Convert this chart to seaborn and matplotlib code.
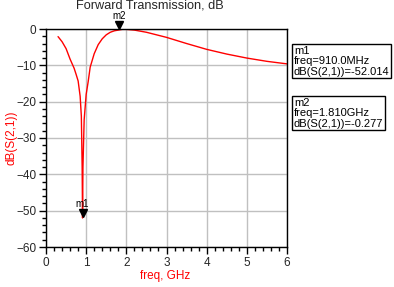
import matplotlib
matplotlib.use("Agg")
import matplotlib.pyplot as plt
import matplotlib.transforms as mtransforms
from matplotlib.ticker import MultipleLocator
import seaborn as sns
import pandas as pd

freq_ghz = [0.3, 0.4, 0.5, 0.6, 0.7, 0.75, 0.8, 0.85, 0.88, 0.9, 0.91,
            0.92, 0.95, 1.0, 1.05, 1.1, 1.2, 1.3, 1.4, 1.5, 1.6, 1.7, 1.81,
            1.9, 2.0, 2.2, 2.5, 3.0, 3.5, 4.0, 4.5, 5.0, 5.5, 6.0]
s21_db = [-2.1, -3.5, -5.4, -8.3, -10.8, -12.5, -14.3, -18.5, -24.0, -38.0, -52.014,
          -38.0, -25.0, -18.0, -14.5, -10.5, -6.8, -4.3, -2.7, -1.6, -0.9, -0.5, -0.277,
          -0.1, -0.1, -0.3, -0.9, -2.3, -4.0, -5.6, -6.9, -8.0, -8.9, -9.6]

markers = ["m1", "m2"]
marker_freq = [0.91, 1.81]
marker_db = [-52.014, -0.277]
marker_text = ["m1\nfreq=910.0MHz\ndB(S(2,1))=-52.014",
               "m2\nfreq=1.810GHz\ndB(S(2,1))=-0.277"]

x_ticks = [0, 1, 2, 3, 4, 5, 6]
y_ticks = [0, -10, -20, -30, -40, -50, -60]

sns.set_style("ticks")
plt.rcParams["font.family"] = ["Liberation Sans", "DejaVu Sans"]

fig = plt.figure(figsize=(3.94, 2.87), dpi=100)
ax = fig.add_axes([46/394, 1-247/287, (287-46)/394, (247-29)/287])

df = pd.DataFrame({"freq": freq_ghz, "db": s21_db})
sns.lineplot(data=df, x="freq", y="db", ax=ax, color="#ff0000", linewidth=1.0)

ax.set_xlim(0, 6)
ax.set_ylim(-60, 0)
ax.set_xticks(x_ticks)
ax.set_yticks(y_ticks)
ax.xaxis.set_minor_locator(MultipleLocator(0.2))
ax.yaxis.set_minor_locator(MultipleLocator(2))
ax.grid(True, which="major", color="#c0c0c0", linewidth=1.0)
ax.tick_params(which="major", length=5, width=1, color="black", labelsize=8.5, pad=2)
ax.tick_params(which="minor", length=3, width=1, color="black")
for s in ax.spines.values():
    s.set_color("black")
    s.set_linewidth(1.0)
    s.set_visible(True)

ax.set_xlabel("freq, GHz", color="#ff0000", fontsize=8.5)
ax.set_ylabel("dB(S(2,1))", color="#ff0000", fontsize=8.5)
ax.xaxis.set_label_coords((165-46)/241, -(276-247)/218)
ax.yaxis.set_label_coords(-(46-12)/241, (247-138)/218)
ax.xaxis.label.set_va("center")
ax.yaxis.label.set_va("center")

fig.text(150/394, 1-8.6/287, "Forward Transmission, dB", ha="center", va="baseline", fontsize=9.2)

for name, fx, fy in zip(markers, marker_freq, marker_db):
    tr = mtransforms.offset_copy(ax.transData, fig=fig, x=0, y=3.4, units="points")
    ax.plot([fx], [fy], marker="v", color="black", markersize=5.8, transform=tr, clip_on=False)
    ax.annotate(name, (fx, fy), xytext=(0, 7.6), textcoords="offset points",
                ha="center", va="baseline", fontsize=7.0, color="black", annotation_clip=False)

box_y = [1 - 46/287, 1 - 98/287]
for txt, by in zip(marker_text, box_y):
    fig.text(294/394, by, txt, ha="left", va="top", fontsize=8, color="black", linespacing=1.05,
             bbox=dict(boxstyle="square,pad=0.15", facecolor="white", edgecolor="black", linewidth=1))

fig.savefig("out.png", dpi=100)
